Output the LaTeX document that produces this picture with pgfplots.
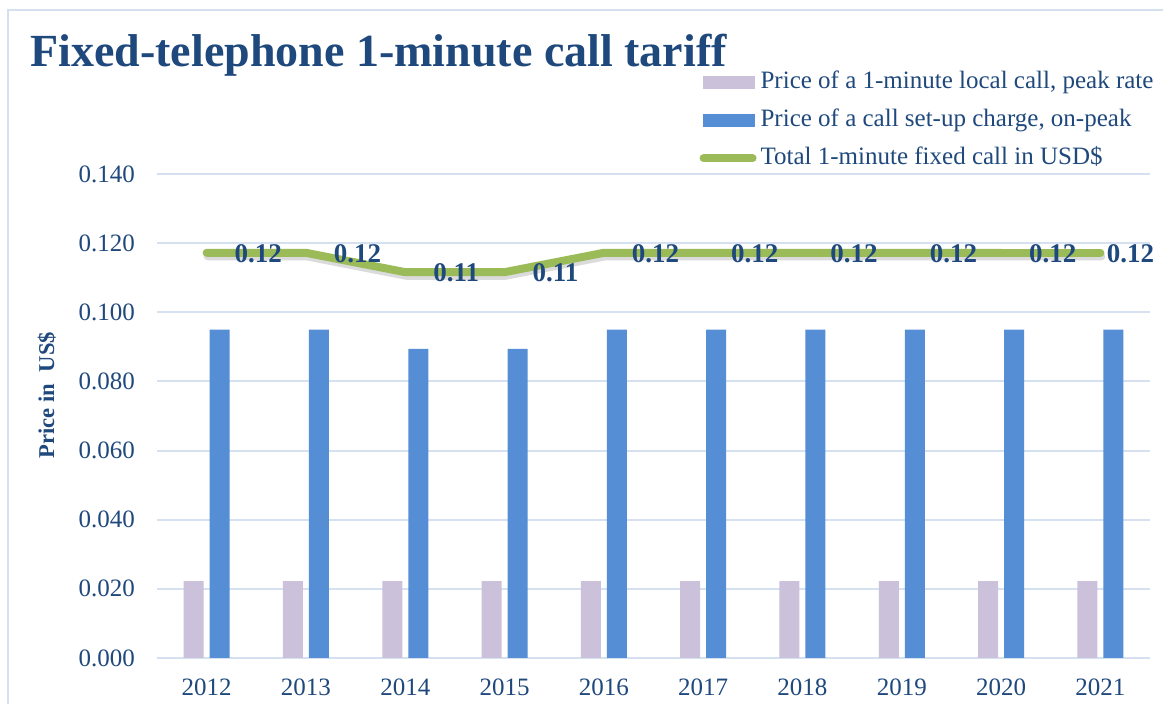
\documentclass[border=0pt]{standalone}
\usepackage{fontspec}
\setmainfont{Liberation Serif}
\usepackage{pgfplots}
\pgfplotsset{compat=1.18}
\definecolor{txt}{HTML}{1F497D}
\definecolor{lav}{HTML}{CBC1DA}
\definecolor{barblue}{HTML}{558ED5}
\definecolor{lgreen}{HTML}{9BBB59}
\definecolor{gridc}{HTML}{D5E1F0}
\begin{document}
\begin{tikzpicture}
\path[use as bounding box, fill=white] (0,0) rectangle (581.5pt,352pt);
\clip (0,0) rectangle (581.5pt,352pt);
\draw[gridc, line width=1pt] (4pt,-5pt) -- (4pt,347pt) -- (590pt,347pt);
\node[anchor=base west, font=\bfseries\fontsize{23}{27}\selectfont, text=txt, inner sep=0pt] at (15pt,318.5pt) {Fixed-telephone 1-minute call tariff};
\begin{axis}[
  at={(78.5pt,23pt)}, anchor=south west,
  scale only axis, width=496.5pt, height=242pt,
  xmin=-0.5, xmax=9.5, ymin=0, ymax=0.14,
  clip=false,
  xtick={0,1,2,3,4,5,6,7,8,9},
  xticklabels={2012,2013,2014,2015,2016,2017,2018,2019,2020,2021},
  ytick={0,0.02,0.04,0.06,0.08,0.1,0.12,0.14},
  yticklabel style={/pgf/number format/fixed, /pgf/number format/fixed zerofill, /pgf/number format/precision=3, /pgf/number format/assume math mode=true, xshift=-7.5pt},
  ticklabel style={font=\fontsize{12.5}{14}\selectfont, text=txt},
  xticklabel style={yshift=-7pt},
  axis line style={draw=none},
  major tick length=0pt,
  ymajorgrids,
  major grid style={gridc, line width=1pt},
  ylabel={Price in\ \ US\$},
  ylabel style={font=\bfseries\fontsize{11.3}{13}\selectfont, text=txt, at={(axis description cs:-0.111,0.543)}, anchor=center},
  bar width=10pt,
  legend cell align=left,
  legend style={draw=none, fill=none, at={(axis description cs:0.546,1.215)}, anchor=north west,
    font=\fontsize{12.5}{14}\selectfont, text=txt, inner sep=0pt, row sep=7pt, column sep=2pt,
    nodes={inner sep=0pt, text height=9pt, text depth=3pt}},
]
\addplot[ybar, bar shift=-6.5pt, fill=lav, draw=none,
  legend image code/.code={\fill[lav] (0pt,-3.25pt) rectangle (26pt,3.25pt);}]
  coordinates {(0,0.0222) (1,0.0222) (2,0.0222) (3,0.0222) (4,0.0222) (5,0.0222) (6,0.0222) (7,0.0222) (8,0.0222) (9,0.0222)};
\addlegendentry{Price of a 1-minute local call, peak rate}
\addplot[ybar, bar shift=6.5pt, fill=barblue, draw=none,
  legend image code/.code={\fill[barblue] (0pt,-3.25pt) rectangle (26pt,3.25pt);}]
  coordinates {(0,0.0950) (1,0.0950) (2,0.0894) (3,0.0894) (4,0.0950) (5,0.0950) (6,0.0950) (7,0.0950) (8,0.0950) (9,0.0950)};
\addlegendentry{Price of a call set-up charge, on-peak}
\addplot[black, opacity=0.14, line width=4pt, line cap=round, line join=round, mark=none, yshift=-1.8pt, xshift=0.5pt, forget plot]
  coordinates {(0,0.1172) (1,0.1172) (2,0.1116) (3,0.1116) (4,0.1172) (5,0.1172) (6,0.1172) (7,0.1172) (8,0.1172) (9,0.1172)};
\addplot[lgreen, line width=4pt, line cap=round, line join=round, mark=none,
  nodes near coords,
  every node near coord/.append style={/pgf/number format/fixed, /pgf/number format/fixed zerofill, /pgf/number format/precision=2, /pgf/number format/assume math mode=true, anchor=west, xshift=12pt, yshift=-0.5pt, inner sep=0pt, text=txt, font=\bfseries\fontsize{13.5}{15}\selectfont},
  legend image code/.code={\draw[lgreen, line width=4pt, line cap=round] (0.5pt,0pt) -- (25pt,0pt);}]
  coordinates {(0,0.1172) (1,0.1172) (2,0.1116) (3,0.1116) (4,0.1172) (5,0.1172) (6,0.1172) (7,0.1172) (8,0.1172)};
\addlegendentry{Total 1-minute fixed call in USD\$}
\addplot[lgreen, line width=4pt, line cap=round, mark=none, forget plot] coordinates {(8,0.1172) (9,0.1172)};
\addplot[draw=none, mark=none, forget plot,
  nodes near coords,
  every node near coord/.append style={/pgf/number format/fixed, /pgf/number format/fixed zerofill, /pgf/number format/precision=2, /pgf/number format/assume math mode=true, anchor=west, xshift=3pt, yshift=-0.5pt, inner sep=0pt, text=txt, font=\bfseries\fontsize{13.5}{15}\selectfont}]
  coordinates {(9,0.1172)};
\end{axis}
\end{tikzpicture}
\end{document}
